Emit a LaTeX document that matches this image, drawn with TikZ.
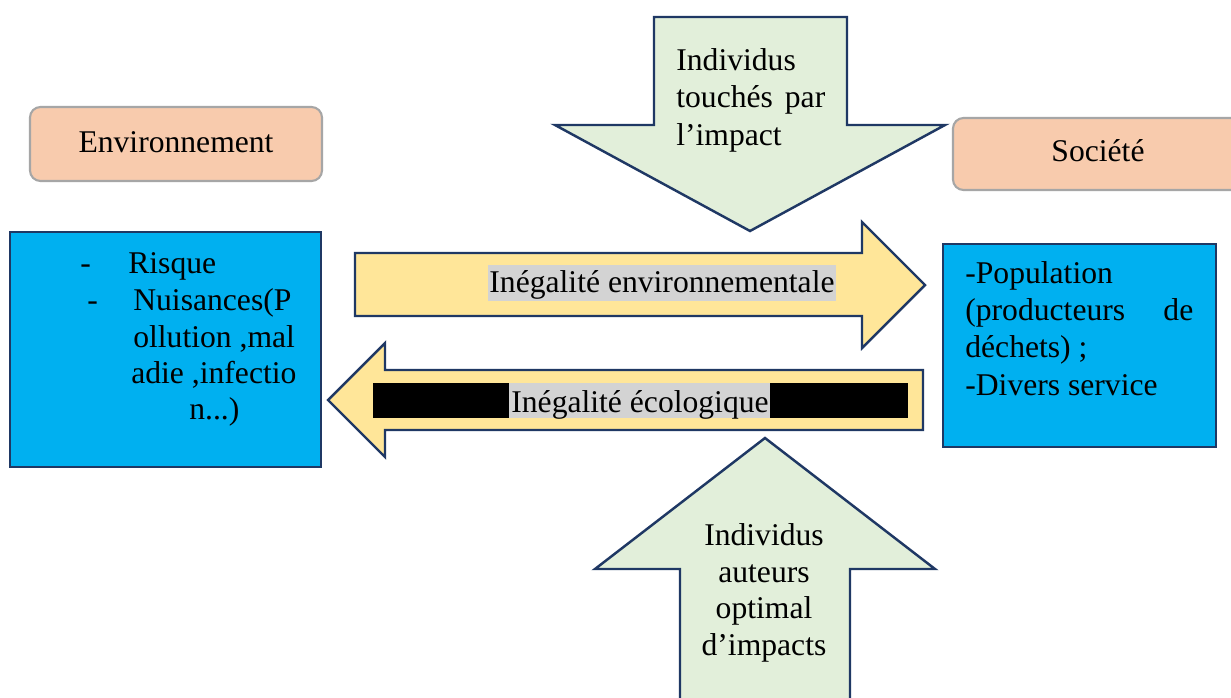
\documentclass[tikz,border=0pt]{standalone}
\usepackage{fontspec}
\setmainfont{Liberation Serif}
\definecolor{peach}{HTML}{F8CBAD}
\definecolor{peachline}{HTML}{A6A6A6}
\definecolor{bluefill}{HTML}{00B0F0}
\definecolor{navy}{HTML}{1F3864}
\definecolor{yellowfill}{HTML}{FFE699}
\definecolor{greenfill}{HTML}{E2EFDA}
\definecolor{hl}{HTML}{D3D3D3}
\tikzset{
  titlebox/.style={draw=peachline, fill=peach, line width=1.2pt, rounded corners=6pt},
  bluebox/.style={draw=navy, fill=bluefill, line width=1.2pt},
  yarrow/.style={draw=navy, fill=yellowfill, line width=1.4pt, line join=miter},
  garrow/.style={draw=navy, fill=greenfill, line width=1.4pt, line join=miter},
  txt/.style={inner sep=0pt, anchor=base west, font=\fontsize{18}{20.7}\selectfont},
  ctxt/.style={inner sep=0pt, anchor=base, font=\fontsize{18}{20.7}\selectfont},
}
\begin{document}
\begin{tikzpicture}[x=0.02cm,y=-0.02cm]
\path[use as bounding box, clip] (0,0) rectangle (1231,697);
\fill[white] (0,0) rectangle (1231,697);

% title boxes
\draw[titlebox] (30,107) rectangle (322,181);
\node[ctxt] (env) at (176,152) {Environnement};
\draw[titlebox] (953,118) rectangle (1260,190);
\node[ctxt] (soc) at (1098,161) {Société};

% blue boxes
\draw[bluebox] (10,232) rectangle (321,467);
\node[txt] (d1) at (80,273) {-};
\node[txt] (l1) at (128,273) {Risque};
\node[txt] (d2) at (87,310) {-};
\node[txt] (l2) at (133,310) {Nuisances(P};
\node[txt] (l3) at (133,347) {ollution ,mal};
\node[txt] (l4) at (131,383) {adie ,infectio};
\node[txt] (l5) at (189,419) {n...)};

\draw[bluebox] (943,244) rectangle (1216,447);
\node[txt] (r1) at (965,283) {-Population};
\node[txt, text width=4.56cm] (r2) at (965,320) {(producteurs\hfill de};
\node[txt] (r3) at (965,357) {déchets) ;};
\node[txt] (r4) at (965,395) {-Divers service};

% top down arrow
\draw[garrow] (654,17) -- (847,17) -- (847,125) -- (945,125) -- (750,231) -- (555,125) -- (654,125) -- cycle;
\node[txt] (t1) at (676,70) {Individus};
\node[txt, text width=2.98cm] (t2) at (676,107) {touchés\hfill par};
\node[txt] (t3) at (676,145) {l’impact};

% bottom up arrow
\draw[garrow] (680,710) -- (680,569) -- (595,569) -- (765,438) -- (935,569) -- (850,569) -- (850,710);
\node[ctxt] (b1) at (764,545) {Individus};
\node[ctxt] (b2) at (764,582) {auteurs};
\node[ctxt] (b3) at (764,618) {optimal};
\node[ctxt] (b4) at (764,655) {d’impacts};

% right arrow
\draw[yarrow] (355,253) -- (862,253) -- (862,222) -- (925,285) -- (862,348) -- (862,316) -- (355,316) -- cycle;
\fill[hl] (488,265) rectangle (836,301);
\node[ctxt] (ie) at (662,292) {Inégalité environnementale};

% left arrow
\draw[yarrow] (923,370) -- (385,370) -- (385,343) -- (328,400) -- (385,457) -- (385,430) -- (923,430) -- cycle;
\fill[black] (373,383) rectangle (509,418);
\fill[hl] (509,383) rectangle (770,418);
\fill[black] (770,383) rectangle (908,418);
\node[ctxt] (ic) at (640,412) {Inégalité écologique};
\end{tikzpicture}
\end{document}
